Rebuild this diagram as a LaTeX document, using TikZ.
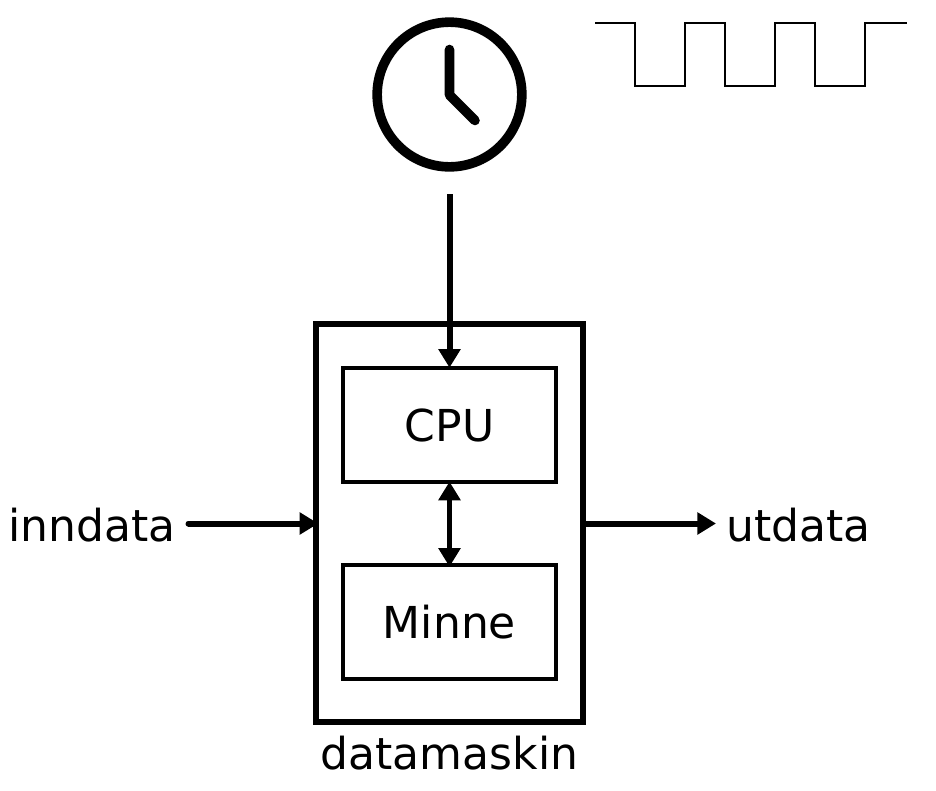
\documentclass[tikz,border=0pt]{standalone}
\usepackage{fontspec}
\setmainfont{DejaVu Sans}
\usetikzlibrary{arrows.meta}
\tikzset{
  outerbox/.style={draw=black,line width=4.6pt,minimum width=200.25pt,minimum height=298pt,inner sep=0pt},
  innerbox/.style={draw=black,line width=3.4pt,minimum width=160pt,minimum height=85.5pt,inner sep=0pt,font=\fontsize{33pt}{36pt}\selectfont},
  clockface/.style={draw=black,line width=7.2pt,circle,minimum size=108.5pt,inner sep=0pt},
  lab/.style={inner sep=0pt,font=\fontsize{33pt}{36pt}\selectfont},
  conn/.style={line width=4.5pt,-{Triangle[length=14pt,width=16pt]}},
  conntwo/.style={line width=3.8pt,{Triangle[length=14pt,width=16pt]}-{Triangle[length=14pt,width=16pt]}},
  hand/.style={line width=7.2pt,line cap=round,line join=round},
  wave/.style={line width=1.5pt,line join=miter}
}
\begin{document}
\begin{tikzpicture}[x=0.75pt,y=-0.75pt]
\useasboundingbox (0,0) rectangle (936,790);
\node[outerbox] (comp) at (449.5,523) {};
\node[innerbox] (cpu) at (449.5,425) {CPU};
\node[innerbox] (minne) at (449.5,622) {Minne};
\node[clockface] (clock) at (449.5,94.5) {};
\coordinate (handtop) at (449.5,49.5);
\coordinate (handmid) at (449.5,95);
\coordinate (handend) at (475,120.5);
\draw[hand] (handtop) -- (handmid) -- (handend);
\coordinate (clockout) at (449.5,194);
\draw[conn,shorten >=-1.5pt] (clockout) -- (cpu.north);
\draw[conntwo,shorten <=-2pt,shorten >=-3pt] (cpu.south) -- (minne.north);
\node[lab,anchor=base west] (inn) at (8,541) {inndata};
\node[lab,anchor=base west] (ut) at (726,541) {utdata};
\node[lab,anchor=base] (dm) at (449.5,769.5) {datamaskin};
\coordinate (innend) at (188.5,523.5);
\coordinate (utend) at (716,523.5);
\draw[conn,line cap=round,shorten >=-4pt] (innend) -- (innend -| comp.west);
\draw[conn] (utend -| comp.east) -- (utend);
\coordinate (w0) at (595,22.5);
\draw[wave] (w0) -- (634.5,22.5) -- (634.5,86) -- (684.5,86) -- (684.5,22.5) -- (725,22.5) -- (725,86) -- (775,86) -- (775,22.5) -- (815,22.5) -- (815,86) -- (865,86) -- (865,22.5) -- (907,22.5);
\end{tikzpicture}
\end{document}
